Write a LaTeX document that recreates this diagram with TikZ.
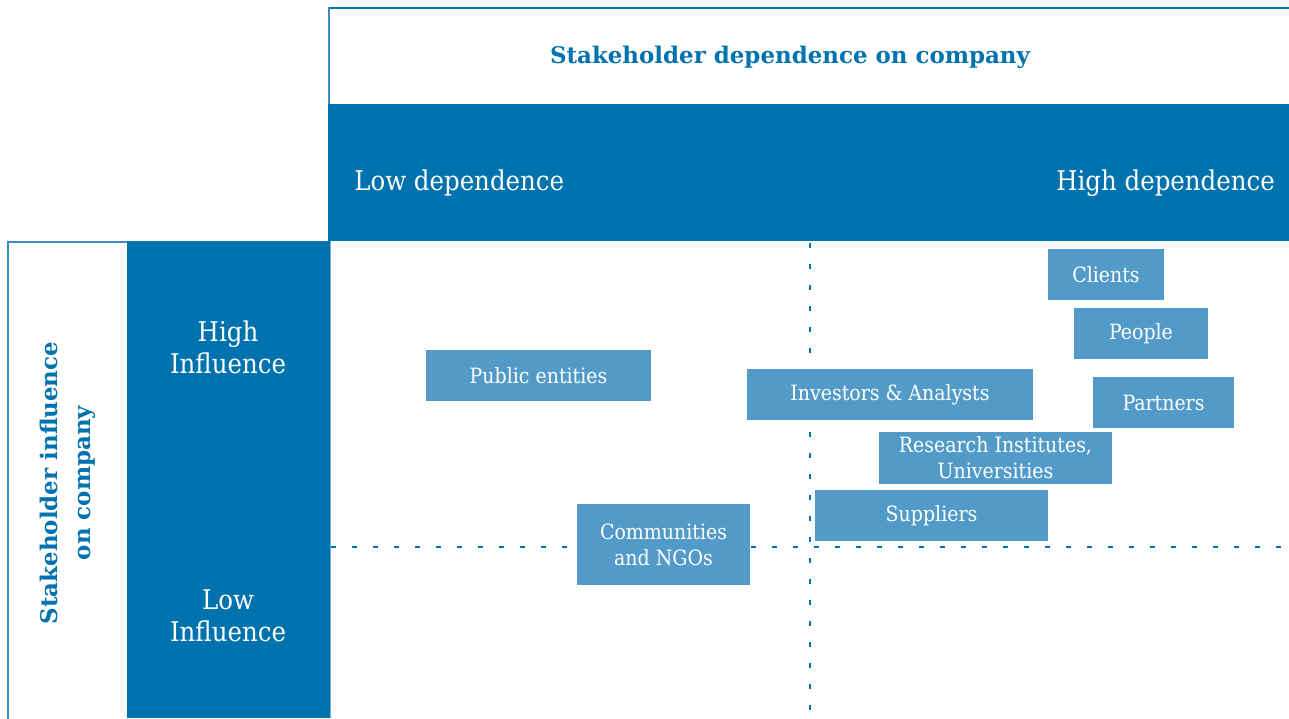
\documentclass[tikz,border=0pt]{standalone}
\usepackage{fontspec}
\setmainfont{DejaVu Serif}
\newfontfamily\condfont{DejaVu Serif Condensed}
\definecolor{darkb}{HTML}{0072AE}
\definecolor{lightb}{HTML}{529BC8}
\definecolor{lineb}{HTML}{3D8BC0}
\begin{document}
\begin{tikzpicture}[x=0.75pt,y=-0.75pt,
  sbox/.style={fill=lightb,text=white,align=center,inner sep=0pt,font=\condfont\fontsize{15.8}{19.5}\selectfont},
  bandtext/.style={text=white,inner sep=0pt,font=\condfont\fontsize{20.4}{24}\selectfont},
  sidetext/.style={text=white,align=center,inner sep=0pt,font=\condfont\fontsize{20.4}{24}\selectfont},
  titletext/.style={text=darkb,inner sep=0pt,font=\bfseries\fontsize{17.2}{25}\selectfont},
  dotline/.style={darkb,line width=1.5pt,dash pattern=on 4pt off 11.75pt}]
\useasboundingbox (0,0) rectangle (1289,718);
% header box
\draw[darkb,line width=1.8pt] (329,8) -- (1292,8);
\draw[lineb,line width=1.6pt] (329,7) -- (329,104);
\node[titletext] (title) at (790,57) {Stakeholder dependence on company};
% dark band
\fill[darkb] (328,104) rectangle (1289,241);
\node[bandtext,anchor=west] (lowdep) at (354,183) {Low dependence};
\node[bandtext,anchor=east] (highdep) at (1275,183) {High dependence};
% left box
\draw[lineb,line width=1.2pt] (8,722) -- (8,242) -- (128,242);
\fill[darkb] (127,241) rectangle (330,718);
\draw[lineb!70,line width=0.8pt] (330.5,241) -- (330.5,718);
\node[sidetext] (highinf) at (228,347) {High\\Influence};
\node[sidetext] (lowinf) at (228,616) {Low\\Influence};
\node[titletext,rotate=90,align=center] (sideinf) at (68,483) {Stakeholder influence\\on company};
% dotted axes
\coordinate (hl) at (331,547);
\coordinate (hr) at (1289,547);
\coordinate (vt) at (810,243);
\coordinate (vb) at (810,718);
\draw[dotline] (hl) -- (hr);
\draw[dotline] (vt) -- (vb);
% stakeholder boxes
\node[sbox,minimum width=116*0.75pt,minimum height=51*0.75pt] (clients) at (1106,274.5) {Clients};
\node[sbox,minimum width=134*0.75pt,minimum height=51*0.75pt] (people) at (1141,333.5) {People};
\node[sbox,minimum width=141*0.75pt,minimum height=51*0.75pt] (partners) at (1163.5,402.5) {Partners};
\node[sbox,minimum width=225*0.75pt,minimum height=51*0.75pt] (public) at (538.5,375.5) {Public entities};
\node[sbox,minimum width=286*0.75pt,minimum height=51*0.75pt] (investors) at (890,394.5) {Investors \& Analysts};
\node[sbox,minimum width=233*0.75pt,minimum height=52*0.75pt] (research) at (995.5,458) {Research Institutes,\\Universities};
\node[sbox,minimum width=233*0.75pt,minimum height=51*0.75pt] (suppliers) at (931.5,515.5) {Suppliers};
\node[sbox,minimum width=173*0.75pt,minimum height=81*0.75pt] (communities) at (663.5,544.5) {Communities\\and NGOs};
\end{tikzpicture}
\end{document}
